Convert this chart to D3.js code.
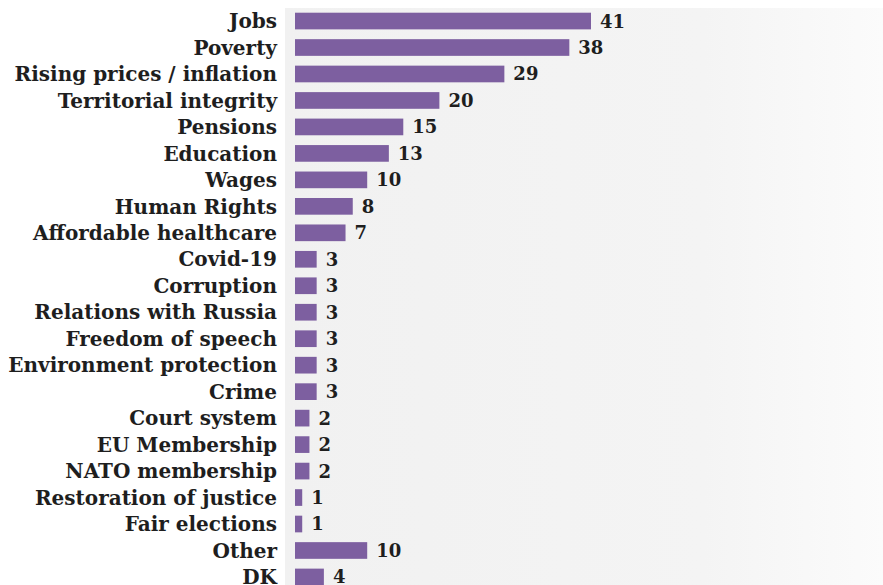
<!DOCTYPE html>
<html>
<head>
<meta charset="utf-8">
<script src="https://cdn.jsdelivr.net/npm/d3@7"></script>
<style>
  body { margin: 0; background: #fff; }
  .label { font-family: "DejaVu Serif", serif; font-weight: bold; fill: #1e1e1e; }
</style>
</head>
<body>
<div id="chart"></div>
<script>
var categories = ["Jobs", "Poverty", "Rising prices / inflation", "Territorial integrity", "Pensions",
  "Education", "Wages", "Human Rights", "Affordable healthcare", "Covid-19", "Corruption",
  "Relations with Russia", "Freedom of speech", "Environment protection", "Crime", "Court system",
  "EU Membership", "NATO membership", "Restoration of justice", "Fair elections", "Other", "DK"];
var values = [41, 38, 29, 20, 15, 13, 10, 8, 7, 3, 3, 3, 3, 3, 3, 2, 2, 2, 1, 1, 10, 4];

var width = 883, height = 585;

var svg = d3.select("#chart").append("svg")
  .attr("width", width)
  .attr("height", height);

// faint grey panel behind the bars
var defs = svg.append("defs");
var grad = defs.append("linearGradient").attr("id", "bg")
  .attr("x1", "0%").attr("x2", "100%").attr("y1", "0%").attr("y2", "0%");
grad.append("stop").attr("offset", "0%").attr("stop-color", "#f1f1f1");
grad.append("stop").attr("offset", "70%").attr("stop-color", "#f4f4f4");
grad.append("stop").attr("offset", "100%").attr("stop-color", "#fbfbfb");

svg.append("rect")
  .attr("x", 285).attr("y", 8)
  .attr("width", width - 285).attr("height", height - 8)
  .attr("fill", "url(#bg)");

var x = d3.scaleLinear().domain([0, 41]).range([295, 591]);
var y = d3.scaleBand().domain(categories).range([7.8, 590.2])
  .paddingInner(0.37).paddingOuter(0.185);

var data = categories.map(function(c, i) { return {name: c, value: values[i]}; });

svg.selectAll(".bar").data(data).enter().append("rect")
  .attr("class", "bar")
  .attr("x", x(0))
  .attr("y", function(d) { return y(d.name); })
  .attr("width", function(d) { return x(d.value) - x(0); })
  .attr("height", y.bandwidth())
  .attr("fill", "#7d5fa0");

// category labels
svg.selectAll(".cat").data(data).enter().append("text")
  .attr("class", "label cat")
  .attr("x", 277)
  .attr("y", function(d) { return y(d.name) + y.bandwidth() / 2; })
  .attr("dy", "0.36em")
  .attr("text-anchor", "end")
  .style("font-size", "20px")
  .text(function(d) { return d.name; });

// value labels
svg.selectAll(".val").data(data).enter().append("text")
  .attr("class", "label val")
  .attr("x", function(d) { return x(d.value) + 9; })
  .attr("y", function(d) { return y(d.name) + y.bandwidth() / 2; })
  .attr("dy", "0.36em")
  .style("font-size", "18px")
  .text(function(d) { return d.value; });
</script>
</body>
</html>
